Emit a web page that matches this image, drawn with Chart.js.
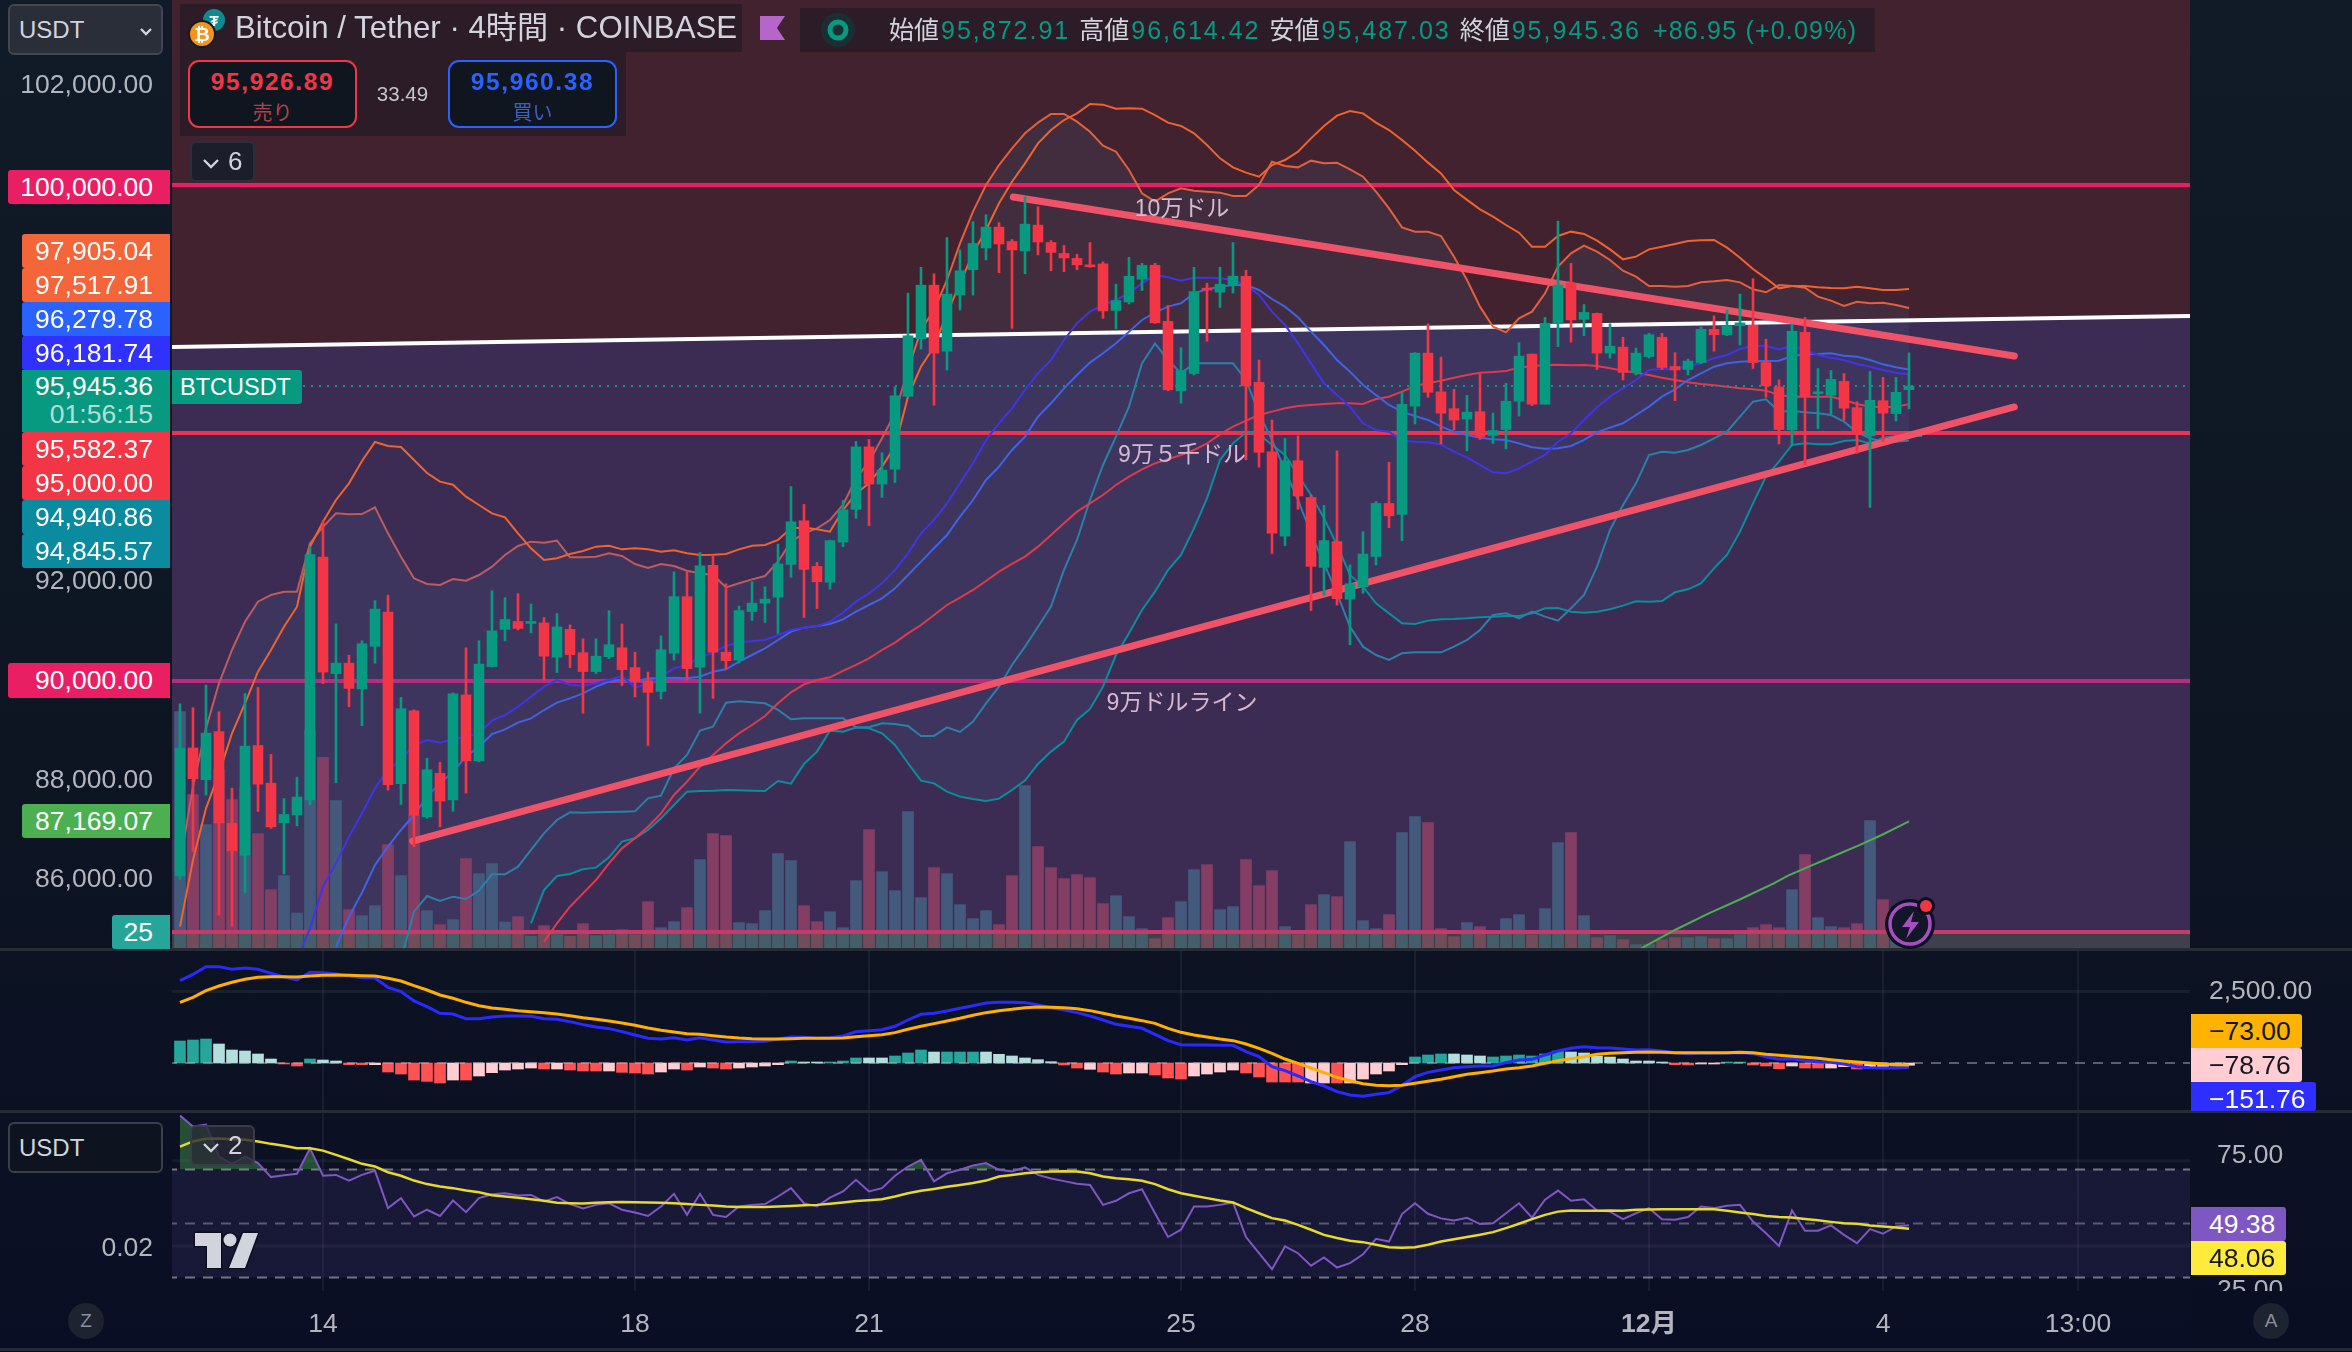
<!DOCTYPE html>
<html lang="ja">
<head>
<meta charset="utf-8">
<title>Bitcoin / Tether 4時間</title>
<script src="https://cdn.jsdelivr.net/npm/chart.js@4"></script>
<style>
html,body{margin:0;padding:0;width:2352px;height:1352px;overflow:hidden;background:linear-gradient(180deg,#101b27 0%,#0d1522 55%,#0a0e24 100%);font-family:"Liberation Sans","Noto Sans CJK JP",sans-serif}
canvas{position:absolute;left:0}
.o{position:absolute;white-space:nowrap;box-sizing:border-box}
.b{position:absolute;box-sizing:border-box;display:flex;align-items:center;justify-content:flex-end;padding-right:17px;font-size:26.5px;color:#fff}
.sep{position:absolute;left:0;width:2352px;height:3px;background:#262b36}
</style>
</head>
<body>
<canvas id="main" width="2352" height="948" style="top:0px"></canvas>
<canvas id="macd" width="2352" height="160" style="top:950px"></canvas>
<canvas id="rsi" width="2352" height="236" style="top:1112px"></canvas>
<div class="sep" style="top:948px"></div><div class="sep" style="top:1110px"></div><div class="sep" style="top:1348px"></div>
<div id="ui"></div>
<script>
const opens=[86070,88650,88010,88980,87130,86490,88700,87940,87140,87300,87600,92500,90150,90360,89840,90700,91390,87930,89400,87260,88140,87600,89720,88390,90290,91040,91200,91160,91170,90480,91040,90570,90190,90490,90670,90270,90000,89790,90560,91700,90280,92330,90580,90420,91400,
91570,91690,92350,93230,92310,91990,92800,93460,94720,93970,94270,95740,96900,97980,96650,97780,98290,98730,99150,98860,98670,99190,98840,98620,98520,98390,98410,97470,97640,98100,98380,97250,95850,96200,97920,97840,97970,98160,96020,94620,92920,94440,93700,92290,92810,91650,
91900,92510,93580,93360,95540,96610,95830,95490,95280,95430,94950,95070,95640,96590,95580,97210,98020,97290,97410,96610,96730,96220,96540,96930,96340,96280,96420,97090,96980,97160,97170,96420,95930,95060,97030,95790,95760,96040,95510,94940,95650,95390,95872.91];
const highs=[89540,89460,89920,89380,87840,89750,89870,88520,87630,88060,92710,93230,91150,90520,90810,91620,91730,89670,89420,88440,88360,89760,90670,90810,91820,91680,91760,91550,91280,91360,91130,90850,90850,91420,91150,90580,90180,90910,92200,92200,92590,92540,91960,91510,92000,
91900,92760,93920,93560,92390,92840,93640,94830,94870,94600,95930,97820,98340,98210,98940,98690,99260,99400,99240,98900,99760,99560,98880,98780,98600,98840,98450,98000,98540,98420,98420,97570,96720,98340,98020,98340,98840,98280,96470,95260,94890,94940,93750,93540,94640,92340,
93010,93620,94410,95830,96620,97200,96530,95880,95760,96190,95400,96000,96820,96590,97330,99270,98420,97590,97420,97200,96930,96710,97010,97010,96620,96490,97140,97360,97480,97800,98110,96890,96070,97190,97330,96300,96260,96200,95630,96240,96120,96120,96614.42];
const lows=[86000,86560,87700,85280,85060,85730,87370,87030,86110,87080,87500,89950,87950,89480,89100,90360,87800,87510,86660,87230,87060,87370,87740,88370,90280,90810,91030,90970,90020,90170,90270,89350,90150,90450,89910,89680,88700,89640,90420,90020,89350,89650,90240,90360,91220,
91180,90960,92090,91280,91460,91850,92710,93280,93130,93700,94000,95730,96690,95560,96270,97480,97780,98490,98230,97110,98210,98590,98270,98250,98290,98340,97310,97100,97600,97870,97210,95850,95600,96170,96850,97530,97820,94460,94310,92570,92730,93460,91420,91730,91530,90730,
91770,92340,93090,92830,95180,95720,94780,95060,94640,94870,94790,94680,95340,95550,95580,96740,96830,96960,96280,96510,96070,96170,96510,96280,95650,96170,96400,96650,96960,96770,96300,95720,94780,94740,94360,95090,95380,95260,94590,93500,94830,95240,95487.03];
const closes=[88640,88030,88950,87140,86580,88690,87920,87060,87310,87660,92550,90180,90360,89850,90750,91450,87910,89440,87290,88210,87580,89740,88390,90340,91010,91240,91060,91190,90500,91090,90530,90190,90500,90730,90230,89990,89770,90630,91700,90250,92320,90580,90410,91420,91570,
91650,92360,93210,92250,92000,92830,93450,94720,93970,94250,95750,96960,97980,96610,97800,98270,98820,99150,98810,98690,99210,98850,98640,98530,98390,98350,97460,97670,98160,98380,97220,95870,96260,97850,97880,98000,98160,95950,94610,92980,94440,93730,92310,92830,91660,91960,
92560,93580,93330,95580,96610,95820,95400,95260,95420,94930,95050,95640,96550,95580,97210,97980,97280,97430,96610,96750,96220,96610,96980,96320,96270,96450,97090,96980,97160,97220,96420,95950,95070,97050,95730,95810,96080,95500,94970,95660,95400,95820,95945.36];
const volumes=[709,460,370,535,445,481,343,175,217,105,653,572,442,115,97,127,310,217,397,112,70,85,268,223,253,78,94,35,67,40,35,73,37,40,55,40,139,61,79,121,265,343,337,76,73,
112,283,262,127,79,109,61,202,355,229,172,409,151,241,223,130,88,112,70,217,487,304,241,208,220,211,133,157,94,58,28,91,139,235,250,115,124,265,187,232,64,40,130,160,154,319,
82,58,100,346,394,376,58,34,76,64,40,88,100,40,118,316,346,97,31,37,25,10,10,25,31,31,34,28,28,40,61,70,61,175,280,91,64,61,73,382,145,35,5];

const salmonStart=0;
const salmon=[86324,87870,89046,89953,90625,91196,91599,91734,91801,91801,92775,93111,93380,93360,93366,93500,92977,92506,92070,91955,91935,92056,92023,92137,92305,92540,92721,92809,92789,92829,92493,92493,92506,92574,92520,92359,92278,92359,92318,92224,92170,92137,91888,91969,92049,
92117,92406,92809,92977,93078,93246,93548,94086,94422,94892,95396,96270,97076,97479,98084,98823,99462,100000,100402,100738,101041,101256,101431,101431,101276,101074,100792,100671,100302,99831,99663,99831,99932,99885,99865,99845,99777,99777,100000,100470,100382,100355,100490,100436,100450,100315,100167,99865,99529,
99146,99058,99058,98971,98555,98084,97547,97143,97029,97311,97446,97815,98353,98622,98776,98655,98487,98272,98151,97963,97963,97950,97963,98037,98057,98084,98037,97896,97836,97983,97963,97930,97748,97668,97560,97647,97614,97627,97580,97518];
const orangeStart=0;
const orange=[85047,86391,87433,88138,88945,89550,90188,90625,91095,91498,92708,93212,93649,93985,94435,94818,94738,94718,94455,94193,94018,93958,93716,93548,93380,93299,92977,92674,92439,92473,92560,92621,92708,92728,92654,92674,92654,92607,92634,92574,92540,92547,92560,92654,92728,
92742,92843,93078,93091,93058,93011,93447,93783,93985,94321,94724,95732,96337,96740,97412,98017,98622,99092,99630,100066,100436,100839,101108,101310,101444,101632,101619,101538,101545,101538,101410,101256,101189,101041,100806,100537,100355,100248,100167,100402,100503,100671,100940,101189,101397,101491,101444,101256,101108,100906,100691,100450,100234,
99900,99700,99509,99361,99193,99038,98756,98756,98971,99059,99012,98877,98702,98501,98555,98702,98756,98810,98870,98884,98891,98736,98534,98306,98118,97916,97963,97963,97936,97923,97916,97950,97916,97883,97883,97905];
const indigoStart=9;
const indigo=[84375,85014,85854,86324,86862,87332,87836,88206,88421,88710,88810,88757,88824,88878,88945,89200,89314,89482,89684,89886,90020,89919,89906,89953,90020,90100,89872,89939,90087,90255,90322,90490,90558,90712,90773,90806,
90827,90927,91028,91075,91109,91196,91378,91599,91767,91969,92238,92574,92977,93246,93582,93985,94388,94859,95195,95497,95867,96203,96471,96875,97211,97446,97580,97681,97815,98017,98185,98138,98071,98131,98131,98118,98084,97983,97782,97446,97177,96807,96404,96001,95766,
95531,95195,95060,95027,94845,94825,94812,94771,94623,94509,94355,94207,94187,94287,94422,94556,94825,94993,95262,95517,95732,95900,96068,96270,96290,96283,96351,96404,96505,96572,96693,96754,96760,96686,96754,96673,96572,96518,96471,96391,96337,96270,96216,96182];
const blueStart=12;
const blue=[84644,85249,85733,86290,86660,86996,87298,87668,87937,88172,88474,88676,88931,89025,89160,89247,89415,89563,89650,89751,89886,89986,90020,89986,90054,90054,90067,90054,90087,90188,90235,90390,90524,
90659,90827,90995,91075,91109,91149,91243,91398,91532,91667,91868,92137,92406,92675,92943,93313,93649,94052,94321,94657,94926,95329,95598,95900,96169,96418,96606,96807,97043,97278,97426,97547,97614,97815,97896,97950,97983,97983,97883,97701,97547,97332,97043,96774,96471,
96236,95967,95766,95564,95430,95342,95262,95127,95027,94959,94906,94872,94859,94791,94711,94684,94691,94738,94859,95013,95107,95195,95363,95531,95732,95880,96068,96203,96337,96404,96438,96451,96451,96458,96552,96586,96592,96606,96559,96539,96471,96384,96324,96280];
const redStart=28;
const redLine=[84745,85114,85450,85719,85988,86324,86626,86828,87063,87332,87702,87970,88273,88508,88743,88945,89113,89295,89550,89772,89933,90021,90074,90202,90323,90457,90625,90773,90961,91129,91331,91532,91680,91835,92016,92204,92359,92507,92708,92943,93179,93414,93582,93750,93951,94119,94267,94388,94469,94556,94657,94791,94973,95127,95248,95362,95430,95497,95544,95564,95584,95598,
95598,95584,95685,95732,95833,95947,96001,96055,96115,96169,96216,96229,96250,96317,96351,96371,96377,96364,96371,96351,96303,96256,96216,96169,96115,96068,96021,95987,95961,95934,95900,95880,95853,95766,95732,95732,95732,95732,95665,95584,95531,95517,95531,95582];
const steelStart=17;
const steel=[84375,85350,85665,85565,85652,85605,85773,86102,86102,86257,86593,86929,87198,87352,87345,87352,87359,87366,87372,87634,87688,88239,88508,88999,89079,89563,89590,89570,
89550,89416,89228,89248,89248,89248,89248,89066,89066,89147,89134,89093,88892,88892,89066,88972,89181,89550,89886,90323,90693,91095,91499,92238,92843,93649,94355,94926,95531,96404,96807,96471,96203,96404,96404,96404,96404,96068,95396,94859,94254,93649,92977,92372,91767,
91095,90692,90524,90423,90558,90578,90578,90578,90692,90827,91028,91331,91364,91263,91398,91297,91217,91465,91734,92305,93044,93548,93985,94556,94623,94603,94657,94758,94892,95027,95329,95631,95678,95430,95450,95416,95396,95362,95228,95013,94892,94825,94825,94846];
const tealStart=27;
const teal=[85114,85786,86069,86109,86203,86237,86445,86761,86828,86996,87231,87500,87769,87782,87789,87802,87796,87789,
87783,87984,87931,88327,88576,88999,88979,89060,89046,88945,88710,88341,87991,87937,87769,87669,87622,87581,87628,87803,87991,88327,88576,88777,89214,89436,89886,90524,90961,91431,91801,92238,92540,93078,93683,94455,94791,95013,94973,94758,94556,94153,93750,93280,92742,92137,
91902,91566,91364,91163,91149,91217,91243,91250,91263,91284,91297,91311,91311,91364,91465,91472,91398,91378,91398,91445,91519,91606,91599,91613,91788,91848,91969,92271,92540,93011,93582,94119,94422,94758,94791,94771,94771,94838,94859,94791,94906,94939,94946,94941];
const tealLeadX=[0,26]; const tealLeadY=[70000,84000];
const greenX=[112.4,115,117.6,119.9,122.6,123.7,125.3,127.4,129.1,130.9,133];
const greenY=[84610,84980,85316,85585,85921,86075,86257,86492,86680,86895,87169];

const whiteX=[-1,155]; const whiteY=[96731,97359];
const trendDownX=[64.1,141.1]; const trendDownY=[99757,96552];
const trendUpX=[17.9,141.1]; const trendUpY=[86774,95524];
const levelValues=[100000,95000,90000,84940];
const lastPrice=95945.36;

const macdLine=[2890,3112,3381,3381,3288,3335,3288,3147,3019,2913,3182,3171,3124,3054,2995,2984,2656,2504,2176,1977,1743,1720,1556,1556,1615,1650,1650,1638,1556,1533,1451,1346,1264,1205,1100,983,866,842,889,807,889,807,737,749,749,761,831,913,901,866,889,948,1100,1135,1170,1287,1509,1708,1743,1825,1919,2012,2106,2129,
2129,2118,2036,1942,1860,1767,1650,1509,1357,1287,1217,1006,784,644,632,632,620,620,398,222,-129,-269,-456,-655,-807,-1006,-1123,-1170,-1100,-1041,-784,-480,-328,-246,-164,-129,-105,-105,12,105,129,281,421,515,573,538,527,491,456,468,421,363,328,339,339,351,363,328,222,129,152,82,47,23,-35,-129,-164,-176,-176,-151.76];
const macdSignal=[2129,2305,2539,2703,2831,2937,3007,3030,3030,3019,3054,3077,3089,3077,3065,3054,2972,2878,2714,2562,2387,2270,2129,2012,1931,1884,1837,1802,1767,1720,1661,1591,1533,1474,1404,1322,1229,1147,1088,1030,1006,959,913,878,854,842,842,854,866,866,866,878,924,959,995,1065,1182,1287,1381,1474,1568,1673,1767,1837,
1884,1942,1966,1954,1942,1907,1837,1743,1650,1568,1486,1392,1217,1076,983,913,842,784,667,515,339,140,-12,-176,-339,-503,-620,-725,-784,-796,-784,-714,-644,-573,-480,-398,-339,-281,-211,-164,-105,-12,82,152,222,304,339,363,374,386,374,363,363,363,363,363,374,363,304,269,234,199,164,117,70,35,0,-35,-59,-73];
const macdHist=[772,807,842,667,456,421,316,140,-35,-105,140,105,70,-59,-59,-59,-316,-386,-597,-644,-702,-597,-597,-456,-339,-246,-211,-176,-211,-211,-246,-281,-281,-281,-328,-351,-386,-316,-211,-246,-140,-176,-211,-176,-140,-105,-59,70,35,35,35,70,176,176,176,246,351,456,386,386,386,386,386,
304,246,176,117,47,-70,-176,-222,-316,-386,-351,-351,-421,-527,-562,-456,-386,-316,-246,-351,-491,-667,-667,-667,-702,-702,-702,-702,-562,-386,-281,-59,211,281,316,316,281,246,211,246,281,246,316,421,386,351,246,211,140,70,70,35,-59,-70,-35,-35,35,35,-70,-105,-199,-105,-176,-176,-176,-129,-211,-187,-140,-105,-78.76];
const histKinds="TTTLLLLLRRTLLRRPRRRRRPRPPPPPRPRRRPRRRPPRPRRPPPPTLLTTTLLTTTLTTTLLLLLLRRPRRPPRRRPPPPRRRRRPPRPPPPPTTTLLLTTTTTTLLLLLLLLRRPPTTRRRPRRPPRPPPP";
const rsiLine=[90.0,85.9,86.6,74.8,72.1,74.8,72.4,67.2,67.9,68.4,77.9,67.7,68.0,65.9,68.0,69.5,55.7,59.4,52.6,55.1,52.8,58.5,54.2,59.4,60.8,61.2,60.4,60.6,58.2,59.8,57.2,55.6,56.9,57.5,55.1,54.1,52.8,56.3,61.0,53.2,61.0,53.2,52.4,56.3,56.9,57.2,60.0,63.1,57.5,56.3,59.6,61.9,66.2,61.9,63.1,67.7,71.1,73.6,65.6,68.6,69.9,71.5,72.4,69.9,
69.3,70.8,68.0,66.7,65.7,64.7,64.3,56.9,58.4,61.2,62.7,53.8,45.0,47.7,56.3,56.3,56.9,57.8,45.0,39.0,33.1,41.5,39.0,34.4,37.4,33.7,35.3,38.6,44.3,43.3,53.5,57.5,53.6,51.9,51.1,52.1,49.8,50.1,53.8,57.5,52.2,58.8,62.2,58.4,59.0,54.8,54.4,51.6,53.8,55.7,51.6,51.4,52.4,56.3,55.7,56.6,56.9,50.7,46.4,41.7,54.8,47.3,47.3,49.3,45.8,42.7,47.9,46.2,48.9,49.38];
const rsiAvg=[78.5,80.4,81.4,81.5,81.2,81.0,80.4,79.5,78.8,77.9,77.9,77.0,75.4,73.8,72.1,71.1,69.0,67.7,65.9,64.6,63.7,63.1,62.2,61.6,60.5,60.0,59.5,59.0,58.4,57.7,57.5,57.4,57.7,57.9,58.0,57.9,57.8,57.7,57.5,57.2,56.9,56.7,56.3,56.1,56.1,56.1,56.3,56.5,56.8,56.9,57.3,57.8,58.3,58.6,59.0,60.0,61.2,62.1,62.8,63.6,64.3,65.0,65.9,67.4,
68.0,68.6,69.0,69.3,69.4,69.3,68.6,67.4,66.8,66.4,65.8,64.6,62.7,61.2,60.3,59.4,58.5,57.8,55.7,53.8,52.0,51.1,49.5,47.7,45.8,44.6,43.6,43.1,42.1,41.2,41.0,41.2,42.1,43.3,44.2,45.0,45.8,46.8,48.3,49.9,51.6,53.2,54.4,54.8,54.7,54.7,54.8,54.7,55.1,55.2,55.3,55.3,55.3,55.3,55.3,54.7,54.1,53.5,52.8,52.4,52.2,51.7,51.2,50.6,50.1,49.9,49.3,48.9,48.5,48.06];
const rsiBands=[70,50,30];
const rsiGridValues=[73.2,41.7];
const timeTickPos=[11,35,53,77,95,113,131,146];
const timeTickLabels=["14","18","21","25","28","12月","4","13:00"];
const priceTicks=[86000,88000,90000,92000,94000,96000,98000,100000,102000];

const badges=[["100,000.00","#e91e63",8,170,34],["97,905.04","#f4663a",22,234,34],["97,517.91","#f4663a",22,268,34],["96,279.78","#2962ff",22,302,34],["96,181.74","#3131ff",22,336,34],["95,582.37","#f23645",22,432,34],["95,000.00","#f23645",22,466,34],["94,940.86","#0b8ba0",22,500,34],["94,845.57","#0b8ba0",22,534,34],["90,000.00","#e91e63",8,663,35],["87,169.07","#4caf50",22,804,34]];

const xMin=-0.615,xMax=154.615,FONT='"Liberation Sans","Noto Sans CJK JP",sans-serif';
Chart.defaults.font.family=FONT;Chart.defaults.animation=false;Chart.defaults.responsive=false;
const pts=(xs,ys)=>xs.map((x,i)=>({x,y:ys[i]}));
const seq=(start,ys)=>ys.map((y,i)=>({x:start+i,y}));
const hl=v=>[{x:-1,y:v},{x:155,y:v}];
const idx=opens.map((_,i)=>i);
const UP='#089981',DOWN='#f23645';
const dir=idx.map(i=>closes[i]>=opens[i]);
const noPad=s=>{s.paddingTop=0;s.paddingBottom=0;s.paddingLeft=0;s.paddingRight=0};
const line=(label,data,color,w,order,extra)=>Object.assign({type:'line',label,data,borderColor:color,borderWidth:w,pointRadius:0,tension:0,fill:false,order},extra||{});
const xGrid={offset:false,color:'rgba(255,255,255,.055)',drawTicks:false,lineWidth:2};
const xScale=(extra)=>Object.assign({type:'linear',min:xMin,max:xMax,offset:false,afterFit:noPad,
  afterBuildTicks:s=>{s.ticks=timeTickPos.map(v=>({value:v}))},
  grid:xGrid,border:{display:false},
  ticks:{display:false}},extra||{});
const money=v=>Number(v).toLocaleString('en-US',{minimumFractionDigits:2,maximumFractionDigits:2});

new Chart(document.getElementById('main'),{type:'bar',data:{datasets:[
 line('上ゾーン',pts(whiteX,whiteY),'transparent',0,200,{fill:'end',backgroundColor:'#41222e'}),
 line('下ゾーン',pts(whiteX,whiteY),'transparent',0,199,{fill:'start',backgroundColor:'#3c2c54'}),
 line('帯',seq(salmonStart,salmon),'transparent',0,190,{fill:{target:3,above:'rgba(65,90,130,.2)',below:'rgba(65,90,130,.2)'}}),
 line('下限帯',pts(tealLeadX,tealLeadY).concat(seq(tealStart,teal)),'transparent',0,189),
 {type:'bar',label:'出来高',data:idx.map(i=>({x:i,y:volumes[i]})),yAxisID:'yV',barThickness:11,grouped:false,backgroundColor:idx.map(i=>dir[i]?'#435a7c':'#843e64'),order:150},
 line('25',hl(levelValues[3]),'#c53a6b',4,140,{fill:'start',backgroundColor:'rgba(77,110,67,.3)'}),
 line('100000',hl(levelValues[0]),'#e91e63',4,130),
 line('95000',hl(levelValues[1]),'#ee3350',4,130),
 line('90000',hl(levelValues[2]),'#b82c80',4,130),
 line('白線',pts(whiteX,whiteY),'#ffffff',4,125),
 line('上限1',seq(orangeStart,orange),'#ef632e',2,60),
 line('上限2',seq(salmonStart,salmon),'#e4603c',2,61,{segment:{borderColor:c=>c.p0.parsed.x<56?'#bd5c60':'#e4603c'}}),
 line('中央1',seq(indigoStart,indigo),'#4034e4',2,62),
 line('中央2',seq(blueStart,blue),'#3f62e6',2,63),
 line('長期',seq(redStart,redLine),'#df3a4c',2,64),
 line('下限2',seq(steelStart,steel),'#2c7fa8',2,65),
 line('下限1',seq(tealStart,teal),'#0b8d9c',2,66),
 line('緑線',pts(greenX,greenY),'#4caf50',2,67),
 line('現在値',hl(lastPrice),UP,2,58,{borderDash:[2,6]}),
 line('下降線',pts(trendDownX,trendDownY),'#f05267',7,50,{borderCapStyle:'round'}),
 line('上昇線',pts(trendUpX,trendUpY),'#f05267',7,50,{borderCapStyle:'round'}),
 {type:'bar',label:'ヒゲ',data:idx.map(i=>({x:i,y:[lows[i],highs[i]]})),barThickness:2,grouped:false,backgroundColor:idx.map(i=>dir[i]?UP:DOWN),order:20},
 {type:'bar',label:'実体',data:idx.map(i=>({x:i,y:[opens[i],closes[i]]})),barThickness:10,minBarLength:2,grouped:false,backgroundColor:idx.map(i=>dir[i]?UP:DOWN),order:10}
]},options:{layout:{padding:{right:162}},plugins:{legend:{display:false},tooltip:{enabled:false}},
 scales:{x:xScale(),
  y:{position:'left',min:84617,max:103729,afterBuildTicks:s=>{s.ticks=priceTicks.map(v=>({value:v}))},afterFit:s=>{s.width=172;noPad(s)},
   grid:{color:'rgba(255,255,255,.05)',drawTicks:false,lineWidth:2},border:{display:false},
   ticks:{autoSkip:false,padding:19,color:'#b2b5be',font:{size:26.5},callback:money}},
  yV:{display:false,min:0,max:2844}}}});

const histColor={T:'#26a69a',L:'#b2dfdb',R:'#ff5252',P:'#ffcdd2'};
new Chart(document.getElementById('macd'),{type:'bar',data:{datasets:[
 {type:'bar',label:'ヒストグラム',data:idx.map(i=>({x:i,y:macdHist[i]})),barThickness:11,grouped:false,backgroundColor:idx.map(i=>histColor[histKinds[i]]),order:20},
 line('ゼロ',hl(0),'rgba(190,190,195,.45)',2,15,{borderDash:[10,8]}),
 line('シグナル',seq(0,macdSignal),'#ffb000',3,9),
 line('MACD',seq(0,macdLine),'#2a2aff',3,10)
]},options:{layout:{padding:{left:172}},plugins:{legend:{display:false},tooltip:{enabled:false}},
 scales:{x:xScale(),
  y:{position:'right',min:-1649,max:3965,afterBuildTicks:s=>{s.ticks=[{value:2500}]},afterFit:s=>{s.width=162;noPad(s)},
   grid:{color:'rgba(255,255,255,.055)',drawTicks:false,lineWidth:3},border:{display:false},
   ticks:{padding:19,color:'#b2b5be',font:{size:26.5},autoSkip:false,callback:money}}}}});

new Chart(document.getElementById('rsi'),{type:'line',data:{datasets:[
 line('70',hl(rsiBands[0]),'rgba(200,200,205,.55)',2,30,{borderDash:[10,8],fill:{target:2,above:'rgba(126,87,194,.12)',below:'rgba(126,87,194,.12)'}}),
 line('50',hl(rsiBands[1]),'rgba(200,200,205,.4)',2,30,{borderDash:[10,8]}),
 line('30',hl(rsiBands[2]),'rgba(200,200,205,.55)',2,30,{borderDash:[10,8]}),
 line('g1',hl(rsiGridValues[0]),'rgba(255,255,255,.05)',3,40),
 line('g2',hl(rsiGridValues[1]),'rgba(255,255,255,.05)',3,40),
 line('RSI',seq(0,rsiLine),'#7e57c2',2,11,{fill:{target:{value:70},above:'rgba(76,175,80,.4)',below:'rgba(0,0,0,0)'}}),
 line('RSI MA',seq(0,rsiAvg),'#e6d930',2.5,10)
]},options:{layout:{padding:{left:172}},plugins:{legend:{display:false},tooltip:{enabled:false}},
 scales:{x:xScale({afterFit:s=>{s.height=57;noPad(s)},ticks:{display:true,autoSkip:false,maxRotation:0,padding:18,color:'#b2b5be',
     font:c=>({size:26.5,weight:timeTickLabels[timeTickPos.indexOf(c.tick&&c.tick.value)]==='12月'?'bold':'normal'}),
     callback:v=>timeTickLabels[timeTickPos.indexOf(v)]}}),
  y:{position:'right',min:25,max:91.3,afterBuildTicks:s=>{s.ticks=[{value:75},{value:25}]},afterFit:s=>{s.width=162;noPad(s)},
   grid:{display:false},border:{display:false},
   ticks:{padding:19,color:'#b2b5be',font:{size:26.5},autoSkip:false,callback:money}}}}});

/* labels and page furniture */
const ui=document.getElementById('ui');
function add(html,css,cls){const d=document.createElement('div');d.className=cls||'o';d.style.cssText=css;d.innerHTML=html;ui.appendChild(d);return d}
add('','left:2191px;top:1291px;width:161px;height:57px;background:#0a0e23');
badges.forEach(b=>add(b[0],`left:${b[2]}px;top:${b[3]}px;width:${170-b[2]}px;height:${b[4]}px;background:${b[1]};border-radius:3px 0 0 3px`,'b'));
add('<div>95,945.36</div><div style="color:rgba(255,255,255,.7)">01:56:15</div>',`left:22px;top:370px;width:148px;height:62px;background:#089981;color:#fff;font-size:26.5px;text-align:right;padding:2px 17px 0 0;line-height:28px`);
add('25','left:112px;top:915px;width:58px;height:34px;background:#26a69a;color:#fff;font-size:26.5px;line-height:34px;text-align:right;padding-right:17px;border-radius:3px 0 0 3px');
add('BTCUSDT','left:172px;top:370px;width:130px;height:34px;background:#089981;color:#fff;font-size:23.5px;line-height:34px;padding-left:8px;border-radius:0 3px 3px 0');
const rb=[["−73.00","#ffb300","#131722",2302,1014,34],["−78.76","#ffcdd2","#131722",2302,1048,34],["−151.76","#2e2eff","#ffffff",2316,1082,29],["49.38","#7e57c2","#ffffff",2286,1207,34],["48.06","#ffeb3b","#131722",2286,1241,34]];
rb.forEach(b=>add(b[0],`left:2191px;top:${b[4]}px;width:${b[3]-2191}px;height:${b[5]}px;background:${b[1]};color:${b[2]};font-size:26.5px;line-height:34px;padding-left:18px;border-radius:0 3px 3px 0;overflow:hidden`));
add('<span>USDT</span><svg width="14" height="10" style="position:absolute;right:8px;top:21px"><path d="M2 2l5 5 5-5" stroke="#d1d4dc" stroke-width="2.4" fill="none"/></svg>','left:8px;top:4px;width:155px;height:51px;background:#2a2e39;border:2px solid #434651;border-radius:6px;color:#d1d4dc;font-size:24px;line-height:47px;padding-left:9px');
add('USDT','left:8px;top:1122px;width:155px;height:51px;background:#0d1420;border:2px solid #3a3f4b;border-radius:6px;color:#d1d4dc;font-size:24px;line-height:47px;padding-left:9px');
add('0.02','left:60px;top:1232px;width:93px;text-align:right;color:#b2b5be;font-size:26.5px;line-height:30px');
/* header */
add('','left:180px;top:4px;width:562px;height:48px;background:rgba(28,24,34,.55)');
add('','left:180px;top:52px;width:446px;height:84px;background:rgba(28,24,34,.55)');
add('<svg width="60" height="48"><circle cx="34" cy="20" r="11" fill="#0f8a8f"/><text x="34" y="26" font-size="15" font-weight="bold" fill="#fff" text-anchor="middle" font-family="Liberation Sans">₮</text><circle cx="22" cy="34" r="13" stroke="#1c1822" stroke-width="2" fill="#f7931a"/><text x="22" y="41" font-size="19" font-weight="bold" fill="#fff" text-anchor="middle" font-family="Liberation Sans">₿</text></svg>','left:180px;top:0');
add('Bitcoin / Tether · 4時間 · COINBASE','left:235px;top:8px;color:#d1d4dc;font-size:31.2px;line-height:40px');
add('<svg width="26" height="26"><path d="M0 1h25l-8 12 8 12H0z" fill="#b665c8"/></svg>','left:760px;top:15px');
add('','left:800px;top:8px;width:1075px;height:44px;background:rgba(28,24,34,.55)');
add('<svg width="36" height="36"><circle cx="18" cy="18" r="17" fill="#1b2f33"/><circle cx="18" cy="18" r="8" fill="none" stroke="#089981" stroke-width="5"/></svg>','left:820px;top:12px');
const ohlc=[["始値","95,872.91"],["高値","96,614.42"],["安値","95,487.03"],["終値","95,945.36"]];
add(ohlc.map(p=>`<span style="color:#d1d4dc">${p[0]}</span><span style="color:#089981;margin-right:9px;letter-spacing:2px;margin-left:2px">${p[1]}</span>`).join('')+'<span style="color:#089981;margin-left:3px;letter-spacing:1.2px">+86.95 (+0.09%)</span>','left:889px;top:14px;font-size:25px;line-height:32px');
add('<div style="font-size:24.5px;font-weight:bold;color:#f23645;margin-top:5px;letter-spacing:1.6px">95,926.89</div><div style="font-size:20px;color:#b0404c;margin-top:1px">売り</div>','left:188px;top:60px;width:169px;height:68px;background:#10161f;border:2px solid #f23645;border-radius:11px;text-align:center;line-height:30px');
add('<div style="font-size:24.5px;font-weight:bold;color:#2962ff;margin-top:5px;letter-spacing:1.6px">95,960.38</div><div style="font-size:20px;color:#3a5fc8;margin-top:1px">買い</div>','left:448px;top:60px;width:169px;height:68px;background:#10161f;border:2px solid #2962ff;border-radius:11px;text-align:center;line-height:30px');
add('33.49','left:357px;top:81px;width:91px;text-align:center;color:#c4c6cc;font-size:20.5px;line-height:26px');
const chev='<svg width="18" height="12" style="margin-right:8px"><path d="M2 2l7 7 7-7" stroke="#d1d4dc" stroke-width="2.4" fill="none"/></svg>';
add(chev+'6','left:190px;top:141px;width:65px;height:41px;background:#1c1f2b;border:2px solid #2c2f3b;border-radius:6px;color:#d1d4dc;font-size:26px;line-height:37px;padding-left:10px');
add(chev+'2','left:190px;top:1125px;width:65px;height:41px;background:rgba(40,42,52,.8);border:2px solid #3a3d49;border-radius:6px;color:#d1d4dc;font-size:26px;line-height:37px;padding-left:10px');
/* drawing labels */
[["10万ドル",208],["9万５千ドル",454],["9万ドルライン",702]].forEach(t=>add(t[0],`left:1082px;width:200px;top:${t[1]-16}px;text-align:center;color:#d6b9d0;font-size:23px;line-height:32px`));
/* logo, icons */
add('<svg width="66" height="38" viewBox="0 0 66 38"><g fill="#d1d4dc" stroke="#0a0f1e" stroke-width="3" paint-order="stroke"><path d="M2 2h26v35H14V15H2z"/><circle cx="37" cy="9" r="6.5"/><path d="M50 2h15L52 37H36z"/></g></svg>','left:193px;top:1231px');
add('<svg width="60" height="60"><circle cx="27" cy="31" r="25" fill="#0c1020"/><circle cx="27" cy="31" r="20" fill="#121627" stroke="#a64fc0" stroke-width="3.5"/><path d="M31 18L19 34h8l-4 12 13-17h-8z" fill="#a64fc0"/><circle cx="43" cy="13" r="9" fill="#0c1020"/><circle cx="43" cy="13" r="6" fill="#f23645"/></svg>','left:1883px;top:893px');
[["Z",86],["A",2271]].forEach(t=>add(t[0],`left:${t[1]-18}px;top:1303px;width:36px;height:36px;border-radius:50%;background:#1d2330;color:#8a8f9c;font-size:19px;line-height:36px;text-align:center`));
</script>
</body>
</html>
